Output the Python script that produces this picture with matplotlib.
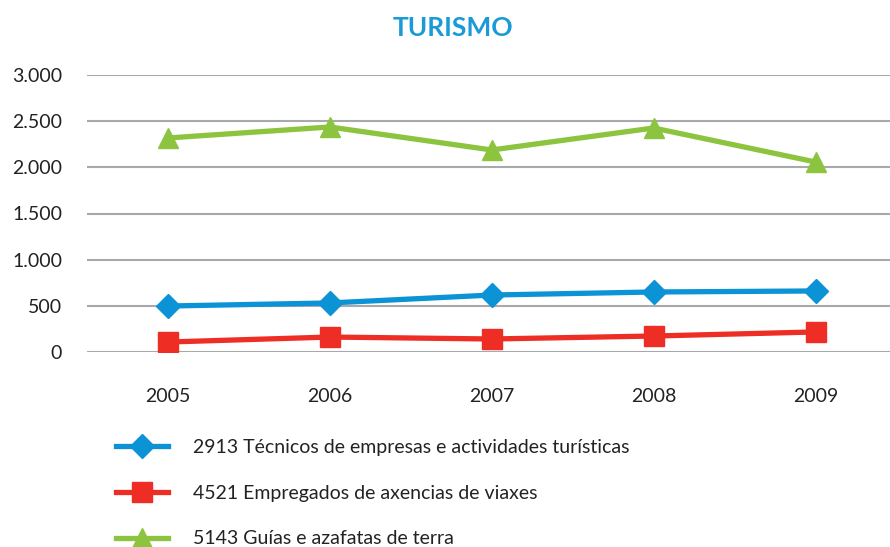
import matplotlib.pyplot as plt
from matplotlib.ticker import FuncFormatter

years = ["2005", "2006", "2007", "2008", "2009"]
tecnicos = [498, 531, 617, 650, 661]
empregados = [108, 162, 141, 173, 217]
guias = [2318, 2437, 2188, 2426, 2058]
labels = ["2913 Técnicos de empresas e actividades turísticas",
          "4521 Empregados de axencias de viaxes",
          "5143 Guías e azafatas de terra"]

plt.rcParams['font.family'] = ['Lato', 'DejaVu Sans']

fig = plt.figure(figsize=(8.9, 5.47), dpi=100)
ax = fig.add_axes([87 / 890, 195 / 547, 803 / 890, 277 / 547])

x = range(len(years))
ax.plot(x, tecnicos, color='#0b93d5', lw=3.8, marker='D', ms=12, label=labels[0])
ax.plot(x, empregados, color='#ee2d24', lw=3.8, marker='s', ms=14, label=labels[1])
ax.plot(x, guias, color='#8cc43f', lw=3.8, marker='^', ms=15, label=labels[2])

ax.set_xlim(-0.5, 4.46)
ax.set_ylim(0, 3000)
ax.set_yticks(range(0, 3001, 500))
ax.yaxis.set_major_formatter(FuncFormatter(lambda v, p: f"{int(v):,}".replace(",", ".")))
ax.set_xticks(list(x))
ax.set_xticklabels(years)
ax.tick_params(length=0, labelsize=14, colors='#222222')
ax.tick_params(axis='x', pad=26)
ax.tick_params(axis='y', pad=18)
ax.grid(axis='y', color='#a7a9ab', lw=1.5)
ax.set_axisbelow(True)
for s in ax.spines.values():
    s.set_visible(False)

fig.text(453 / 890, 1 - 28 / 547, "TURISMO", color='#1a9ad6', fontsize=19,
         fontweight='bold', ha='center', va='center')

fig.legend(loc='upper left', bbox_to_anchor=(108 / 890, 1 - 431 / 547),
           frameon=False, fontsize=14, handlelength=2.7, handletextpad=1.25,
           labelspacing=1.48, labelcolor='#222222', borderaxespad=0)

fig.savefig('out.png', dpi=100)
